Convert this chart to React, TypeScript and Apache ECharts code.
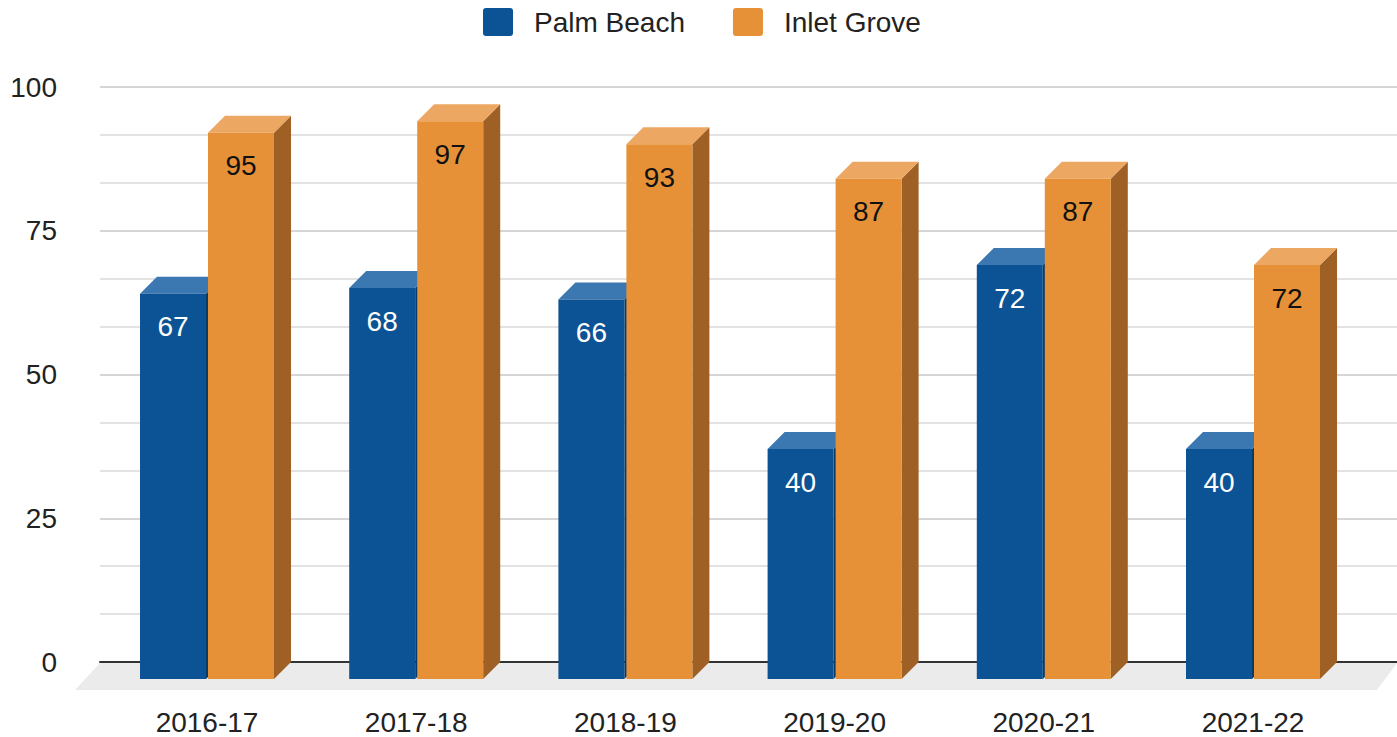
import React, { useEffect, useRef } from "react";
import * as echarts from "echarts";

const categories = ["2016-17", "2017-18", "2018-19", "2019-20", "2020-21", "2021-22"];
const palmBeach = [67, 68, 66, 40, 72, 40];
const inletGrove = [95, 97, 93, 87, 87, 72];
const seriesNames = ["Palm Beach", "Inlet Grove"];

const FONT = "'Liberation Sans', Arial, sans-serif";
const DX = 17;
const DY = 17;

const BLUE = { front: "#0b5394", top: "#3b77b0", side: "#083b6a", label: "#ffffff" };
const ORANGE = { front: "#e69138", top: "#eca862", side: "#9e6025", label: "#111111" };

const LEGEND_ICON = "path://M3,0H27Q30,0 30,3V25Q30,28 27,28H3Q0,28 0,25V3Q0,0 3,0Z";

function makeRender(side: number, pal: typeof BLUE) {
  return (params: any, api: any) => {
    const i = api.value(0);
    const v = api.value(1);
    const top = api.coord([i, v]);
    const base = api.coord([i, 0]);
    const band = api.size([1, 0])[0];
    const w = band * 0.3155;
    const cx = top[0];
    const x0 = side < 0 ? cx - 1 - w : cx + 1;
    const x1 = x0 + w;
    const yt = top[1] + DY;
    const yb = base[1] + DY;
    return {
      type: "group",
      children: [
        {
          type: "polygon",
          shape: { points: [[x1, yt], [x1 + DX, yt - DY], [x1 + DX, yb - DY], [x1, yb]] },
          style: { fill: pal.side },
        },
        {
          type: "polygon",
          shape: { points: [[x0, yt], [x1, yt], [x1 + DX, yt - DY], [x0 + DX, yt - DY]] },
          style: { fill: pal.top },
        },
        {
          type: "rect",
          shape: { x: x0, y: yt, width: w, height: yb - yt },
          style: { fill: pal.front },
        },
        {
          type: "text",
          x: (x0 + x1) / 2,
          y: yt + 33,
          style: {
            text: String(v),
            fill: pal.label,
            fontSize: 28,
            fontFamily: FONT,
            align: "center",
            verticalAlign: "middle",
          },
        },
      ],
    };
  };
}

export default function App() {
  const ref = useRef<HTMLDivElement>(null);
  useEffect(() => {
    document.body.style.margin = "0";
    const chart = echarts.init(ref.current!, undefined, { renderer: "svg" });
    chart.setOption({
      animation: false,
      backgroundColor: "#ffffff",
      textStyle: { fontFamily: FONT },
      legend: {
        top: 3,
        left: 478,
        itemWidth: 30,
        itemHeight: 28,
        itemGap: 48,
        icon: LEGEND_ICON,
        textStyle: { fontSize: 28, color: "#222222", fontFamily: FONT, padding: [0, 0, 0, 16] },
        data: [
          { name: seriesNames[0], itemStyle: { color: BLUE.front } },
          { name: seriesNames[1], itemStyle: { color: ORANGE.front } },
        ],
      },
      grid: [
        { left: 100, right: 0, top: 87, bottom: 75 },
        { left: 102.4, width: 1255.2, top: 87, bottom: 75 },
      ],
      xAxis: [
        {
          gridIndex: 0,
          type: "category",
          data: categories,
          axisLine: { show: true, lineStyle: { color: "#333333", width: 2 } },
          axisTick: { show: false },
          axisLabel: { show: false },
        },
        {
          gridIndex: 1,
          type: "category",
          data: categories,
          axisLine: { show: false },
          axisTick: { show: false },
          axisLabel: { fontSize: 28, color: "#222222", fontFamily: FONT, margin: 46 },
        },
      ],
      yAxis: [
        {
          gridIndex: 0,
          type: "value",
          min: 0,
          max: 100,
          interval: 25,
          axisLine: { show: false },
          axisTick: { show: false },
          axisLabel: { fontSize: 28, color: "#222222", fontFamily: FONT, margin: 43 },
          splitLine: { lineStyle: { color: "#d6d6d6", width: 2 } },
          minorTick: { show: false, splitNumber: 3 },
          minorSplitLine: { show: true, lineStyle: { color: "#e2e2e2", width: 2 } },
        },
        { gridIndex: 1, type: "value", min: 0, max: 100, show: false },
      ],
      series: [
        {
          type: "custom",
          name: "floor",
          xAxisIndex: 0,
          yAxisIndex: 0,
          z: 1,
          silent: true,
          data: [[0, 0]],
          renderItem: (params: any) => {
            const cs = params.coordSys;
            const yb = cs.y + cs.height;
            const xl = cs.x;
            const xr = cs.x + cs.width;
            return {
              type: "polygon",
              shape: { points: [[xl, yb + 1], [xr, yb + 1], [xr - 20, yb + 28], [xl - 25, yb + 28]] },
              style: { fill: "#ebebeb" },
            };
          },
        },
        {
          type: "custom",
          name: seriesNames[0],
          xAxisIndex: 1,
          yAxisIndex: 1,
          z: 3,
          itemStyle: { color: BLUE.front },
          data: palmBeach.map((v, i) => [i, v]),
          renderItem: makeRender(-1, BLUE),
        },
        {
          type: "custom",
          name: seriesNames[1],
          xAxisIndex: 1,
          yAxisIndex: 1,
          z: 4,
          itemStyle: { color: ORANGE.front },
          data: inletGrove.map((v, i) => [i, v]),
          renderItem: makeRender(1, ORANGE),
        },
      ],
    });
    return () => chart.dispose();
  }, []);
  return <div ref={ref} style={{ width: 1397, height: 737 }} />;
}
